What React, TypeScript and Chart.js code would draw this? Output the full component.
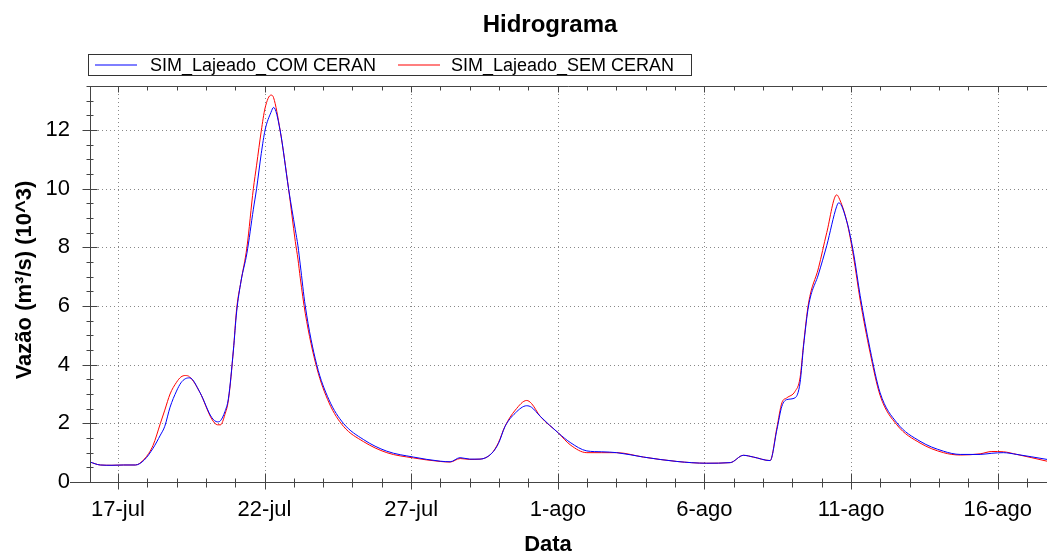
import React, { useEffect, useRef } from "react";
import { Chart, registerables } from "chart.js";

Chart.register(...registerables);

// Time axis in days: day N of July (1-ago = 32)
const DAYS = [
  16.05, 16.4, 16.8, 17.2, 17.6, 17.9, 18.2, 18.45, 18.6, 18.78, 19.0, 19.15, 19.3, 19.45, 19.8, 20.2, 20.4, 20.5,
  20.65, 20.77, 20.94, 21.05, 21.2, 21.4, 21.62, 21.73, 21.89, 22.02, 22.22, 22.31, 22.53, 22.82,
  23.05, 23.14, 23.22, 23.39, 23.78, 24.2, 24.69, 25.37, 26.17, 27.08, 27.99, 28.33, 28.67, 29.0,
  29.35, 29.75, 29.98, 30.2, 30.55, 30.94, 31.1, 31.4, 32.02, 32.42, 32.99, 33.5, 34.01, 34.92,
  36.06, 37.08, 37.88, 38.33, 38.67, 39.24, 39.47, 39.64, 39.81, 40.09, 40.26, 40.38, 40.55, 40.89,
  41.17, 41.51, 41.58, 41.86, 42.08, 42.31, 42.65, 42.99, 43.56, 44.35, 45.15, 45.72, 46.4, 46.8,
  47.19, 47.65, 48.68,
];

const SIM_COM_CERAN = [
  0.68, 0.58, 0.57, 0.58, 0.58, 0.75, 1.15, 1.6, 1.9, 2.55, 3.1, 3.38, 3.52, 3.55, 3.05, 2.2, 2.05, 2.09,
  2.4, 2.85, 4.5, 5.8, 6.85, 7.8, 9.3, 10.0, 11.2, 12.0, 12.6, 12.77, 12.0, 10.0,
  8.6, 8.05, 7.4, 6.0, 4.0, 2.8, 2.0, 1.45, 1.05, 0.85, 0.71, 0.69, 0.83, 0.78,
  0.78, 0.98, 1.32, 1.89, 2.35, 2.6, 2.55, 2.24, 1.67, 1.35, 1.06, 1.03, 1.0, 0.85,
  0.7, 0.64, 0.66, 0.91, 0.85, 0.73, 1.78, 2.58, 2.81, 2.87, 3.38, 4.63, 6.0, 7.09,
  8.06, 9.4, 9.52, 8.86, 7.83, 6.35, 4.52, 3.04, 2.02, 1.39, 1.05, 0.94, 0.94, 0.98,
  1.0, 0.94, 0.77,
];

const SIM_SEM_CERAN = [
  0.68, 0.58, 0.57, 0.58, 0.58, 0.78, 1.25, 2.0, 2.45, 3.0, 3.4, 3.58, 3.63, 3.58, 3.05, 2.15, 1.95, 1.95,
  2.3, 2.8, 4.5, 5.9, 6.85, 8.0, 10.0, 10.8, 11.97, 12.75, 13.19, 13.1, 12.0, 10.0,
  8.2, 7.6, 6.95, 5.75, 3.9, 2.7, 1.9, 1.38, 1.0, 0.82, 0.7, 0.68, 0.8, 0.77,
  0.78, 0.98, 1.35, 1.9, 2.45, 2.78, 2.68, 2.24, 1.67, 1.27, 1.0, 1.0, 1.0, 0.85,
  0.7, 0.64, 0.66, 0.91, 0.85, 0.73, 1.85, 2.7, 2.87, 3.09, 3.55, 4.7, 6.1, 7.3,
  8.5, 9.79, 9.7, 8.86, 7.7, 6.2, 4.4, 2.95, 1.95, 1.33, 1.0, 0.92, 0.96, 1.04,
  1.03, 0.94, 0.71,
];

const X_TICK_DAYS = [17, 22, 27, 32, 37, 42, 47];
const X_TICK_LABELS = ["17-jul", "22-jul", "27-jul", "1-ago", "6-ago", "11-ago", "16-ago"];
const Y_TICKS = [0, 2, 4, 6, 8, 10, 12];

const TITLE = "Hidrograma";
const SERIES_NAMES = ["SIM_Lajeado_COM CERAN", "SIM_Lajeado_SEM CERAN"];
const SERIES_COLORS = ["rgb(0,0,255)", "rgb(255,0,0)"];
const X_TITLE = "Data";
const Y_TITLE = "Vazão (m³/s) (10^3)";

const FONT = "'Liberation Sans', Arial, sans-serif";

const decorPlugin = {
  id: "decor",
  beforeDatasetsDraw(chart: any) {
    const { ctx, chartArea: a, scales } = chart;
    const xs = scales.x;
    const ys = scales.y;
    ctx.save();
    ctx.strokeStyle = "#888888";
    ctx.lineWidth = 1;
    ctx.setLineDash([1, 3]);
    X_TICK_DAYS.forEach((d) => {
      const px = Math.round(xs.getPixelForValue(d)) + 0.5;
      ctx.beginPath();
      ctx.moveTo(px, a.top);
      ctx.lineTo(px, a.bottom);
      ctx.stroke();
    });
    Y_TICKS.forEach((v) => {
      if (v === 0) return;
      const py = Math.round(ys.getPixelForValue(v)) + 0.5;
      ctx.beginPath();
      ctx.moveTo(a.left, py);
      ctx.lineTo(a.right, py);
      ctx.stroke();
    });
    ctx.restore();
  },
  afterDraw(chart: any) {
    const { ctx, chartArea: a, scales } = chart;
    const xs = scales.x;
    const ys = scales.y;
    const L = Math.round(a.left) + 0.5;
    const B = Math.round(a.bottom) + 0.5;
    const T = Math.round(a.top) + 0.5;
    ctx.save();
    ctx.strokeStyle = "#444444";
    ctx.lineWidth = 1;
    ctx.setLineDash([]);
    ctx.beginPath();
    ctx.moveTo(L, T);
    ctx.lineTo(L, B);
    ctx.moveTo(a.left - 20, B);
    ctx.lineTo(a.right, B);
    ctx.moveTo(L, T);
    ctx.lineTo(a.right, T);
    for (let d = Math.ceil(xs.min); d <= xs.max; d++) {
      const px = Math.round(xs.getPixelForValue(d)) + 0.5;
      const major = X_TICK_DAYS.indexOf(d) >= 0;
      ctx.moveTo(px, B - (major ? 9 : 4));
      ctx.lineTo(px, B + (major ? 7 : 5));
      ctx.moveTo(px, T);
      ctx.lineTo(px, T + (major ? 6 : 4));
    }
    for (let k = 1; k <= 27; k++) {
      const v = k * 0.5;
      const py = Math.round(ys.getPixelForValue(v)) + 0.5;
      const major = Y_TICKS.indexOf(v) >= 0;
      ctx.moveTo(L - (major ? 8 : 4), py);
      ctx.lineTo(L + (major ? 7 : 3), py);
    }
    ctx.stroke();

    // Title
    ctx.fillStyle = "#000000";
    ctx.font = `bold 24px ${FONT}`;
    ctx.textAlign = "center";
    ctx.textBaseline = "alphabetic";
    ctx.fillText(TITLE, 550, 32);

    // Legend
    ctx.strokeStyle = "#333333";
    ctx.lineWidth = 1;
    ctx.strokeRect(88.5, 54.5, 603, 21);
    const items = [
      { x0: 95, x1: 137, tx: 150 },
      { x0: 398, x1: 440, tx: 451 },
    ];
    items.forEach((it, i) => {
      ctx.beginPath();
      ctx.strokeStyle = SERIES_COLORS[i];
      ctx.lineWidth = 1.2;
      ctx.moveTo(it.x0, 65);
      ctx.lineTo(it.x1, 65);
      ctx.stroke();
    });
    ctx.font = `18px ${FONT}`;
    ctx.textAlign = "left";
    ctx.textBaseline = "middle";
    ctx.fillStyle = "#000000";
    items.forEach((it, i) => {
      ctx.fillText(SERIES_NAMES[i], it.tx, 66);
    });

    // Axis titles
    ctx.font = `bold 22px ${FONT}`;
    ctx.textAlign = "center";
    ctx.textBaseline = "alphabetic";
    ctx.fillText(X_TITLE, 548, 551);
    ctx.save();
    ctx.translate(31, 280);
    ctx.rotate(-Math.PI / 2);
    ctx.fillText(Y_TITLE, 0, 0);
    ctx.restore();
    ctx.restore();
  },
};

export default function App() {
  const ref = useRef<HTMLCanvasElement | null>(null);
  useEffect(() => {
    document.body.style.margin = "0";
    const canvas = ref.current;
    if (!canvas) return;
    Chart.defaults.font.family = FONT;
    const chart = new Chart(canvas, {
      type: "line",
      data: {
        datasets: [SIM_COM_CERAN, SIM_SEM_CERAN].map((vals, i) => ({
          label: SERIES_NAMES[i],
          data: DAYS.map((d, j) => ({ x: d, y: vals[j] })),
          borderColor: SERIES_COLORS[i],
          backgroundColor: SERIES_COLORS[i],
          borderWidth: 1,
          pointRadius: 0,
          cubicInterpolationMode: "monotone" as const,
          fill: false,
        })),
      },
      options: {
        responsive: false,
        animation: false,
        devicePixelRatio: 1,
        layout: { padding: { top: 86, left: 0, right: 0, bottom: 0 } },
        plugins: {
          legend: { display: false },
          title: { display: false },
          tooltip: { enabled: false },
        },
        scales: {
          x: {
            type: "linear",
            min: 16.05,
            max: 48.68,
            grid: { display: false, drawTicks: false },
            border: { display: false },
            afterBuildTicks: (s: any) => {
              s.ticks = X_TICK_DAYS.map((v) => ({ value: v }));
            },
            afterFit: (s: any) => {
              s.height = 70;
              s.paddingLeft = 0;
              s.paddingRight = 0;
            },
            ticks: {
              autoSkip: false,
              maxRotation: 0,
              padding: 15,
              color: "#000000",
              font: { size: 22, family: FONT },
              callback: (v: any) => {
                const i = X_TICK_DAYS.indexOf(Number(v));
                return i >= 0 ? X_TICK_LABELS[i] : "";
              },
            },
          },
          y: {
            type: "linear",
            min: 0,
            max: 13.5,
            grid: { display: false, drawTicks: false },
            border: { display: false },
            afterBuildTicks: (s: any) => {
              s.ticks = Y_TICKS.map((v) => ({ value: v }));
            },
            afterFit: (s: any) => {
              s.width = 90;
              s.paddingTop = 0;
              s.paddingBottom = 0;
            },
            ticks: {
              autoSkip: false,
              padding: 20,
              color: "#000000",
              font: { size: 22, family: FONT },
              callback: (v: any) => String(v),
            },
          },
        },
      },
      plugins: [decorPlugin],
    });
    return () => chart.destroy();
  }, []);
  return (
    <div style={{ width: 1047, height: 552, background: "#ffffff" }}>
      <canvas ref={ref} width={1047} height={552} style={{ display: "block" }} />
    </div>
  );
}
